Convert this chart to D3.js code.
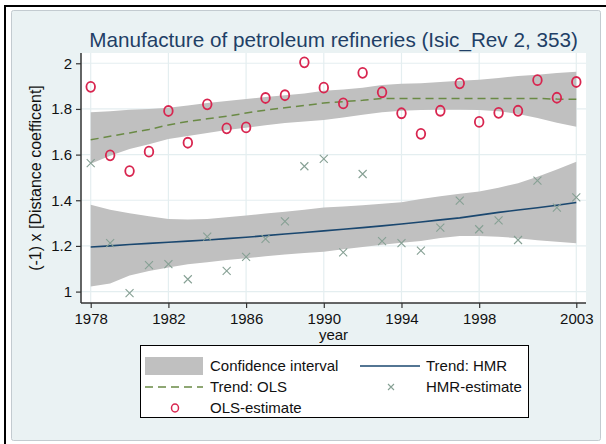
<!DOCTYPE html>
<html>
<head>
<meta charset="utf-8">
<script src="https://cdn.jsdelivr.net/npm/d3@7"></script>
<style>
  body { margin: 0; background: #fff; }
  text { font-family: "Liberation Sans", Arial, sans-serif; }
</style>
</head>
<body>
<svg class="chart" width="606" height="444"></svg>
<script>
// values
var years = [1978, 1979, 1980, 1981, 1982, 1983, 1984, 1985, 1986, 1987, 1988, 1989, 1990,
  1991, 1992, 1993, 1994, 1995, 1996, 1997, 1998, 1999, 2000, 2001, 2002, 2003];

var olsEstimate = [1.897, 1.597, 1.528, 1.613, 1.791, 1.652, 1.820, 1.715, 1.719, 1.848, 1.860, 2.004, 1.893,
  1.824, 1.958, 1.873, 1.781, 1.691, 1.792, 1.912, 1.743, 1.783, 1.792, 1.926, 1.849, 1.918];

var hmrEstimate = [1.563, 1.212, 0.993, 1.116, 1.120, 1.054, 1.241, 1.091, 1.152, 1.231, 1.308, 1.549, 1.581,
  1.172, 1.515, 1.221, 1.212, 1.179, 1.280, 1.398, 1.273, 1.312, 1.226, 1.486, 1.368, 1.413];

var olsTrend = [1.665, 1.680, 1.695, 1.710, 1.730, 1.745, 1.757, 1.768, 1.782, 1.795, 1.805, 1.815, 1.826,
  1.832, 1.838, 1.846, 1.846, 1.846, 1.846, 1.846, 1.846, 1.846, 1.846, 1.846, 1.843, 1.842];
var olsLower = [1.560, 1.595, 1.625, 1.645, 1.668, 1.682, 1.695, 1.708, 1.718, 1.728, 1.738, 1.745, 1.752,
  1.762, 1.775, 1.785, 1.792, 1.795, 1.796, 1.796, 1.795, 1.790, 1.778, 1.760, 1.740, 1.722];
var olsUpper = [1.785, 1.790, 1.796, 1.800, 1.805, 1.815, 1.826, 1.835, 1.843, 1.852, 1.860, 1.868, 1.880,
  1.885, 1.893, 1.905, 1.910, 1.913, 1.918, 1.923, 1.928, 1.936, 1.944, 1.950, 1.957, 1.963];

var hmrTrend = [1.195, 1.200, 1.206, 1.211, 1.216, 1.221, 1.226, 1.232, 1.238, 1.245, 1.252, 1.259, 1.266,
  1.273, 1.280, 1.288, 1.296, 1.305, 1.314, 1.323, 1.335, 1.347, 1.357, 1.367, 1.378, 1.390];
var hmrLower = [1.022, 1.035, 1.070, 1.090, 1.105, 1.120, 1.128, 1.138, 1.146, 1.155, 1.162, 1.169, 1.175,
  1.185, 1.195, 1.205, 1.214, 1.222, 1.235, 1.243, 1.243, 1.240, 1.234, 1.225, 1.218, 1.212];
var hmrUpper = [1.380, 1.358, 1.343, 1.330, 1.318, 1.316, 1.318, 1.326, 1.333, 1.342, 1.350, 1.358, 1.368,
  1.373, 1.378, 1.385, 1.391, 1.405, 1.418, 1.428, 1.438, 1.455, 1.475, 1.503, 1.535, 1.569];

var xTicks = [1978, 1982, 1986, 1990, 1994, 1998, 2003];
var yTicks = [1, 1.2, 1.4, 1.6, 1.8, 2];

var title = "Manufacture of petroleum refineries (Isic_Rev 2, 353)";
var yTitle = "(-1) x [Distance coefficent]";
var xTitle = "year";

var svg = d3.select(".chart");

var plotLeft = 81, plotRight = 586, plotTop = 53, plotBottom = 303;

var xScale = d3.scaleLinear().domain([1977.5, 2003.5]).range([plotLeft, plotRight]),
  yScale = d3.scaleLinear().domain([0.95, 2.045]).range([plotBottom, plotTop]);

// outer frame and grey panel
svg.append("line").attr("x1", 5).attr("x2", 5).attr("y1", 5).attr("y2", 444)
  .attr("stroke", "#000").attr("stroke-width", 2);
svg.append("line").attr("x1", 4).attr("x2", 606).attr("y1", 6).attr("y2", 6)
  .attr("stroke", "#000").attr("stroke-width", 2);
svg.append("rect").attr("x", 11.5).attr("y", 10.5).attr("width", 589).attr("height", 430).attr("rx", 2)
  .attr("fill", "#eaf2f3").attr("stroke", "#c3cbd0");

// plot region
svg.append("rect").attr("x", plotLeft).attr("y", plotTop)
  .attr("width", plotRight - plotLeft).attr("height", plotBottom - plotTop)
  .attr("fill", "#fff");

var grid = svg.append("g").attr("stroke", "#e4eef0").attr("stroke-width", 1.2);
yTicks.forEach(function (t) {
  grid.append("line").attr("x1", plotLeft).attr("x2", plotRight).attr("y1", yScale(t)).attr("y2", yScale(t));
});
xTicks.forEach(function (t) {
  grid.append("line").attr("y1", plotTop).attr("y2", plotBottom).attr("x1", xScale(t)).attr("x2", xScale(t));
});

var rows = years.map(function (yr, i) {
  return {
    year: yr, ols: olsEstimate[i], hmr: hmrEstimate[i],
    olsT: olsTrend[i], olsLo: olsLower[i], olsHi: olsUpper[i],
    hmrT: hmrTrend[i], hmrLo: hmrLower[i], hmrHi: hmrUpper[i]
  };
});

function band(lo, hi) {
  return d3.area()
    .x(function (d) { return xScale(d.year); })
    .y0(function (d) { return yScale(d[lo]); })
    .y1(function (d) { return yScale(d[hi]); });
}
function trend(key) {
  return d3.line()
    .x(function (d) { return xScale(d.year); })
    .y(function (d) { return yScale(d[key]); });
}

svg.append("path").datum(rows).attr("d", band("olsLo", "olsHi")).attr("fill", "#c0c0c0");
svg.append("path").datum(rows).attr("d", band("hmrLo", "hmrHi")).attr("fill", "#c0c0c0");

svg.append("path").datum(rows).attr("d", trend("olsT"))
  .attr("fill", "none").attr("stroke", "#6a8a45").attr("stroke-width", 1.5)
  .attr("stroke-dasharray", "8,5");
svg.append("path").datum(rows).attr("d", trend("hmrT"))
  .attr("fill", "none").attr("stroke", "#1a476f").attr("stroke-width", 1.6);

// HMR estimates (x marks)
function xMark(sel, cx, cy, s) {
  sel.append("path")
    .attr("d", "M" + (cx - s) + "," + (cy - s) + "L" + (cx + s) + "," + (cy + s) +
      "M" + (cx - s) + "," + (cy + s) + "L" + (cx + s) + "," + (cy - s))
    .attr("stroke", "#86a094").attr("stroke-width", 1.1).attr("fill", "none");
}
var marks = svg.append("g");
rows.forEach(function (d) { xMark(marks, xScale(d.year), yScale(d.hmr), 4); });

// OLS estimates (hollow circles)
svg.append("g").selectAll("ellipse").data(rows).join("ellipse")
  .attr("cx", function (d) { return xScale(d.year); })
  .attr("cy", function (d) { return yScale(d.ols); })
  .attr("rx", 4.3).attr("ry", 5)
  .attr("fill", "none").attr("stroke", "#d8254f").attr("stroke-width", 1.8);

// axes
var gx = svg.append("g").attr("transform", "translate(0," + plotBottom + ")")
  .call(d3.axisBottom(xScale).tickValues(xTicks).tickFormat(d3.format("d")).tickSize(5).tickPadding(5));
var gy = svg.append("g").attr("transform", "translate(" + plotLeft + ",0)")
  .call(d3.axisLeft(yScale).tickValues(yTicks).tickFormat(function (d) { return String(+d.toFixed(1)); })
    .tickSize(5).tickPadding(4));
[gx, gy].forEach(function (g) {
  g.select(".domain").attr("stroke", "#333").attr("stroke-width", 1.5);
  g.selectAll(".tick line").attr("stroke", "#333").attr("stroke-width", 1.2);
  g.selectAll(".tick text").attr("font-size", 15).attr("fill", "#111")
    .attr("font-family", "Liberation Sans, Arial, sans-serif");
});
gx.select(".domain").attr("d", "M" + plotLeft + ",0H" + plotRight);
gy.select(".domain").attr("d", "M0," + plotTop + "V" + plotBottom);

// titles
svg.append("text").attr("x", (plotLeft + plotRight) / 2).attr("y", 47).attr("text-anchor", "middle")
  .attr("font-size", 20.7).attr("fill", "#1f3f66").text(title);
svg.append("text").attr("x", (plotLeft + plotRight) / 2).attr("y", 340).attr("text-anchor", "middle")
  .attr("font-size", 15).attr("fill", "#111").text(xTitle);
svg.append("text").attr("transform", "translate(41," + (plotTop + plotBottom) / 2 + ") rotate(-90)")
  .attr("text-anchor", "middle").attr("font-size", 16).attr("fill", "#111").text(yTitle);

// legend
var lg = svg.append("g");
lg.append("rect").attr("x", 140.5).attr("y", 345.5).attr("width", 388).attr("height", 72)
  .attr("fill", "#fff").attr("stroke", "#000").attr("stroke-width", 1);
var r1 = 366, r2 = 387, r3 = 408;
lg.append("rect").attr("x", 145).attr("y", r1 - 9).attr("width", 58).attr("height", 18).attr("fill", "#c0c0c0");
lg.append("line").attr("x1", 145).attr("x2", 203).attr("y1", r2).attr("y2", r2)
  .attr("stroke", "#6a8a45").attr("stroke-width", 1.5).attr("stroke-dasharray", "8,5");
lg.append("ellipse").attr("cx", 175).attr("cy", r3).attr("rx", 3.5).attr("ry", 4)
  .attr("fill", "none").attr("stroke", "#d8254f").attr("stroke-width", 1.5);
lg.append("line").attr("x1", 360).attr("x2", 420).attr("y1", r1).attr("y2", r1)
  .attr("stroke", "#1a476f").attr("stroke-width", 1.6);
xMark(lg, 391, r2, 3);

var legendText = [
  [210, r1, "Confidence interval"], [426, r1, "Trend: HMR"],
  [210, r2, "Trend: OLS"], [426, r2, "HMR-estimate"],
  [210, r3, "OLS-estimate"]
];
legendText.forEach(function (t) {
  lg.append("text").attr("x", t[0]).attr("y", t[1]).attr("dy", "0.36em")
    .attr("font-size", 15).attr("fill", "#111").text(t[2]);
});
</script>
</body>
</html>
